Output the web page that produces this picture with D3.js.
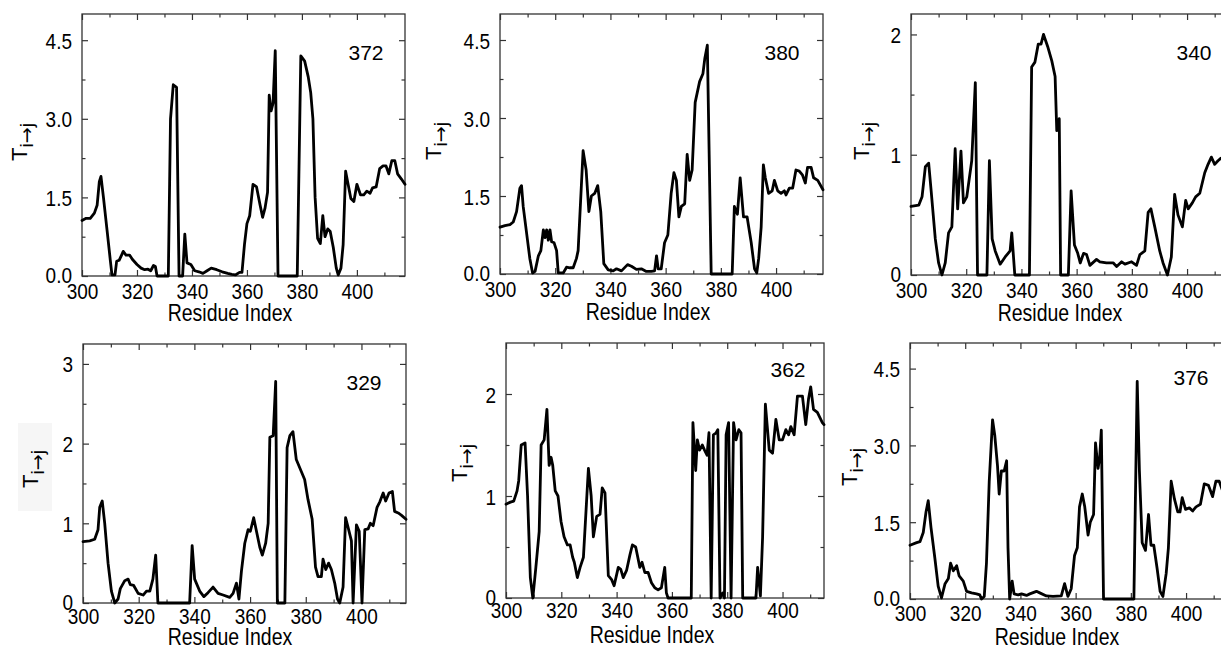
<!DOCTYPE html>
<html>
<head>
<meta charset="utf-8">
<script src="https://cdn.jsdelivr.net/npm/d3@7"></script>
<style>
  html, body { margin: 0; padding: 0; background: #fff; }
  svg { display: block; }
  text { font-family: "Liberation Sans", Arial, sans-serif; fill: #000; }
</style>
</head>
<body>
<svg id="chart" width="1221" height="649"></svg>
<script>
// Transfer entropy T(i->j) profiles along the residue index, one panel per source residue.
const panelIds = ["372", "380", "340", "329", "362", "376"];

const xTicks = [300, 320, 340, 360, 380, 400];
const yTicksWide = [0, 1.5, 3.0, 4.5];
const yTicksTwo = [0, 1, 2];
const yTicksThree = [0, 1, 2, 3];

const trace372 = [[300,1.06],[301.5,1.1],[303,1.1],[304.5,1.2],[305.5,1.35],[306.3,1.8],[306.9,1.9],[307.8,1.5],[309.1,0.88],[310.3,0.3],[310.9,0.02],[312,0.02],[312.6,0.28],[313.5,0.3],[314.4,0.4],[315,0.47],[316,0.4],[317.3,0.4],[318.3,0.32],[320,0.22],[321.5,0.15],[322.8,0.12],[324,0.13],[325,0.1],[326,0.2],[326.7,0.18],[327.3,0],[331.4,0],[332.2,3.0],[333.2,3.65],[334.4,3.6],[335.3,0],[336.6,0],[337.4,0.8],[338.2,0.25],[339.6,0.22],[341,0.1],[342.5,0.08],[344,0.05],[345.5,0.1],[347,0.15],[349,0.12],[351,0.08],[353,0.05],[354.5,0.03],[355.8,0.02],[357.3,0.07],[358.2,0.07],[359.1,0.6],[360,1.0],[361,1.15],[362.2,1.75],[363.5,1.7],[364.8,1.35],[365.7,1.12],[366.6,1.3],[367.5,1.6],[368.1,3.45],[368.8,3.15],[369.5,3.3],[370.3,4.3],[371.3,0],[378.3,0],[379.6,4.2],[381,4.1],[382.3,3.8],[383.2,3.5],[384,3.0],[384.8,1.5],[385.7,0.72],[386.7,0.62],[387.6,1.15],[388.4,0.75],[389.4,0.9],[390.3,0.85],[391.4,0.55],[392.5,0.15],[393.2,0.02],[394.2,0.15],[395,0.6],[395.9,2.0],[396.8,1.75],[397.8,1.48],[398.9,1.42],[400,1.75],[401.3,1.55],[402.5,1.55],[403.6,1.62],[404.8,1.58],[405.7,1.68],[407,1.7],[408.3,2.05],[409.5,2.1],[410.6,2.1],[411.6,1.95],[412.7,2.2],[413.8,2.2],[414.8,1.95],[416.2,1.85],[417.5,1.75]];

const trace380 = [[300,0.9],[301.8,0.93],[303.6,0.95],[304.8,1.0],[306,1.2],[307.2,1.65],[307.8,1.7],[308.4,1.3],[309.6,0.8],[310.8,0.3],[311.8,0.02],[312.7,0.05],[313.9,0.35],[314.8,0.45],[315.7,0.85],[316.3,0.7],[316.9,0.85],[317.5,0.65],[318.1,0.85],[318.7,0.62],[319.6,0.6],[320.5,0.45],[321.1,0.02],[322.9,0.02],[324.1,0.13],[325.3,0.12],[326.5,0.12],[327.7,0.3],[328.3,0.45],[330.1,2.37],[331.2,2.0],[332.2,1.2],[333.1,1.5],[334.3,1.55],[335.4,1.7],[336.5,1.2],[337.6,0.2],[339.2,0.08],[341,0.06],[342.2,0.1],[344,0.06],[346.2,0.18],[347.6,0.15],[349.4,0.09],[351.2,0.1],[353,0.05],[354.8,0.05],[356,0.06],[356.7,0.35],[357.3,0.1],[358.4,0.1],[359.6,0.6],[360.8,0.75],[362,1.55],[363,1.95],[363.9,1.8],[364.8,1.1],[365.7,1.3],[366.9,1.35],[367.8,2.3],[368.7,1.8],[369.6,2.0],[370.7,3.3],[372.3,3.7],[373.5,3.85],[374.2,4.15],[375.1,4.4],[376.5,0],[384.1,0],[384.9,1.3],[386,1.15],[387,1.85],[388.2,1.1],[389.5,1.1],[391,0.6],[392.2,0.1],[393,0.02],[393.7,0.3],[394.6,0.9],[395.4,2.1],[396.1,1.85],[397.3,1.55],[398.6,1.6],[399.4,1.8],[400.6,1.6],[401.8,1.55],[403,1.6],[403.6,1.52],[404.8,1.65],[406,1.65],[407.2,2.0],[408.4,1.98],[409.6,1.9],[410.6,1.75],[411.4,2.05],[412.7,2.05],[413.6,1.85],[415.1,1.8],[417,1.62]];

const trace340 = [[300,0.57],[302.8,0.58],[304,0.65],[305.2,0.9],[306.4,0.93],[307.3,0.7],[308.8,0.3],[310,0.1],[311.2,0.0],[312.4,0.1],[313.6,0.35],[314.8,0.4],[316,1.05],[316.9,0.55],[318.1,1.03],[319,0.6],[320.2,0.65],[322,0.95],[323.3,1.6],[324.1,0],[327.5,0],[328.4,0.95],[329.4,0.3],[330.5,0.2],[332.3,0.09],[334.1,0.15],[335.9,0.2],[336.5,0.35],[337.6,0],[342.9,0],[343.7,1.73],[344.9,1.77],[346.1,1.92],[347.1,1.92],[348,2.0],[349.5,1.9],[351,1.78],[352.2,1.65],[352.8,1.2],[353.7,1.3],[354.2,0],[357,0],[358,0.7],[359.2,0.25],[360.4,0.18],[361.3,0.1],[362.5,0.18],[363.6,0.17],[364.8,0.08],[367.2,0.13],[368.4,0.11],[370.8,0.1],[373.3,0.1],[374.5,0.07],[376.3,0.11],[377.5,0.09],[379.9,0.11],[381.7,0.08],[382.9,0.17],[384.7,0.2],[385.9,0.52],[386.9,0.55],[388.3,0.4],[390.1,0.2],[391.3,0.1],[392.9,0],[394.3,0.15],[395.5,0.67],[396.7,0.5],[398.3,0.4],[399.5,0.62],[400.4,0.55],[401.9,0.6],[403.1,0.65],[404.6,0.68],[406.4,0.85],[407.6,0.92],[408.8,0.98],[410,0.92],[411.2,0.95],[412.2,0.97],[413.5,0.98]];

const trace329 = [[300,0.77],[302.4,0.78],[304.2,0.8],[305.4,0.92],[306,1.2],[306.9,1.28],[307.8,1.0],[309,0.5],[310.2,0.15],[311.4,0.0],[312.6,0.05],[313.4,0.18],[315,0.28],[316.2,0.3],[317,0.23],[318.2,0.22],[319.8,0.12],[321.6,0.1],[322.8,0.15],[324,0.15],[325.1,0.3],[326.1,0.6],[326.9,0],[338.3,0],[339.2,0.72],[340.1,0.3],[341.9,0.15],[343.4,0.08],[344.9,0.13],[346.7,0.2],[348.5,0.12],[350.3,0.1],[352.7,0.07],[353.9,0.12],[355.1,0.25],[356,0.05],[356.9,0.4],[358.1,0.75],[359.3,0.92],[360.1,0.9],[361.3,1.07],[362.3,0.9],[363.5,0.7],[364.4,0.6],[365.6,0.75],[366.5,1.0],[367.1,2.08],[368.3,2.1],[369.2,2.78],[369.8,0],[372.5,0],[373.3,1.95],[374.3,2.1],[375.4,2.15],[376.6,1.8],[378.4,1.65],[379.6,1.55],[380.8,1.3],[382.3,1.05],[383.5,0.45],[384.4,0.33],[385.6,0.33],[386.2,0.55],[387.2,0.42],[388.2,0.5],[389.2,0.42],[390.4,0.25],[391.4,0.05],[392.2,0],[393.4,0.2],[394.3,1.07],[395.2,0.95],[396.4,0.78],[397,0],[398.2,0.98],[399.2,0.9],[400.2,0],[401.2,0.92],[402.4,0.93],[403.2,1.0],[404.2,0.97],[405.6,1.2],[406.6,1.27],[407.8,1.38],[408.7,1.28],[409.9,1.38],[411.1,1.4],[411.9,1.15],[413.2,1.13],[414.4,1.1],[416,1.05]];

const trace362 = [[300,0.92],[301.6,0.94],[302.8,0.95],[304,1.05],[304.6,1.15],[305.5,1.5],[306.9,1.52],[307.8,1.0],[308.8,0.2],[309.7,0.0],[310.8,0.3],[312,0.65],[312.7,1.5],[313.8,1.55],[314.8,1.85],[315.6,1.3],[316.3,1.38],[316.9,1.3],[317.8,1.05],[318.8,1.0],[319.9,0.75],[321,0.6],[322.2,0.52],[323.2,0.52],[324.1,0.4],[324.7,0.35],[325.8,0.2],[326.8,0.3],[328,0.4],[329.8,1.27],[330.8,1.0],[331.6,0.6],[332.8,0.8],[334,0.82],[334.8,1.08],[335.8,1.03],[337,0.22],[338.2,0.18],[339.1,0.12],[340.6,0.3],[341.5,0.28],[342.4,0.2],[343.6,0.27],[344.8,0.42],[345.7,0.52],[346.9,0.5],[348.4,0.3],[349.2,0.35],[350.2,0.25],[351.4,0.25],[352.6,0.15],[353.8,0.1],[355,0.08],[356.2,0.1],[357.4,0.3],[358,0.05],[358.6,0],[367,0],[367.6,1.72],[368.6,1.25],[369.2,1.55],[370,1.45],[371,1.5],[371.8,1.45],[372.7,1.4],[373.4,1.62],[374.2,0],[375,1.6],[376,1.62],[376.6,1.65],[377.4,0],[378.4,0.05],[379,0],[379.6,1.6],[380.5,1.72],[381.4,0],[382.3,1.72],[383.2,1.55],[384.2,1.65],[385,1.62],[385.6,0],[390.4,0],[391,0.3],[392,0.02],[392.8,0.6],[393.8,1.9],[395.2,1.45],[396.4,1.42],[397.6,1.75],[398.8,1.55],[400,1.55],[401.2,1.65],[402.2,1.6],[403,1.68],[404.2,1.6],[405.4,1.98],[407.2,1.98],[408.4,1.7],[409.4,1.95],[410.2,2.07],[411.2,1.85],[412.6,1.82],[414.4,1.72],[415,1.7]];

const trace376 = [[300,1.05],[302.4,1.1],[303.6,1.12],[304.8,1.3],[305.8,1.7],[306.6,1.92],[307.6,1.4],[309,0.8],[310.2,0.25],[311.4,0.02],[312.7,0.3],[313.9,0.4],[314.7,0.7],[315.7,0.55],[316.9,0.65],[317.8,0.45],[319.3,0.35],[320.5,0.15],[322.3,0.12],[324.1,0.1],[325.3,0.08],[325.9,0],[326.9,0.05],[327.7,0.7],[328.7,2.3],[329.9,3.5],[330.7,3.2],[331.7,2.6],[332.3,2.05],[333.1,2.5],[334.1,2.5],[335,2.7],[335.5,1.0],[336.1,0],[337,0.35],[337.7,0.1],[339.2,0.08],[340.4,0.1],[342.2,0.07],[343.4,0.1],[345.8,0.15],[347,0.12],[349.4,0.06],[351.8,0.05],[354.8,0.06],[356,0.3],[357.2,0.05],[358.4,0.2],[359.6,0.85],[360.6,1.0],[361.4,1.8],[362.4,2.05],[363.3,1.8],[364.5,1.25],[365.3,1.5],[366.5,1.65],[367.2,3.05],[368.1,2.55],[368.7,2.75],[369.3,3.3],[370.1,0],[381.1,0],[382.3,4.25],[383.1,2.5],[384.1,1.1],[385.3,0.95],[386.4,1.65],[387.3,1.05],[388.3,1.05],[389.5,0.6],[390.6,0.15],[391.6,0.05],[392.8,0.5],[393.6,1.0],[394.6,2.3],[395.8,1.95],[397,1.7],[397.8,1.7],[398.6,1.98],[399.8,1.75],[401.2,1.78],[402.4,1.72],[403.6,1.8],[405.2,1.85],[406.6,2.25],[408.1,2.22],[409.6,2.0],[410.8,2.3],[412,2.3],[413.3,2.1],[414.5,2.05]];

const traces = [trace372, trace380, trace340, trace329, trace362, trace376];
const yTickSets = [yTicksWide, yTicksWide, yTicksTwo, yTicksThree, yTicksTwo, yTicksWide];

// Frame placement of each panel on the page (pixels), axis extents and title anchors.
const layout = [
  { left: 82,  right: 405,  top: 14,  bottom: 276, xMax: 417.5, yMax: 5.0,  yMinor: 0.75, digits: 1, tickDy: 23, idPos: [366, 60],  yLab: [27, 142],  xLab: [230, 321] },
  { left: 500, right: 823,  top: 14,  bottom: 274, xMax: 417,   yMax: 5.0,  yMinor: 0.75, digits: 1, tickDy: 23, idPos: [782, 60],  yLab: [441, 141], xLab: [648, 320] },
  { left: 911, right: 1234, top: 14,  bottom: 275, xMax: 417,   yMax: 2.17, yMinor: 0.5,  digits: 0, tickDy: 23, idPos: [1194, 60], yLab: [869, 141], xLab: [1060, 321] },
  { left: 83,  right: 406,  top: 344, bottom: 603, xMax: 416,   yMax: 3.25, yMinor: 0.5,  digits: 0, tickDy: 21, idPos: [364, 390], yLab: [38, 469],  xLab: [230, 645] },
  { left: 506, right: 824,  top: 343, bottom: 598, xMax: 415,   yMax: 2.5,  yMinor: 0.5,  digits: 0, tickDy: 20, idPos: [788, 377], yLab: [467, 463], xLab: [652, 643] },
  { left: 910, right: 1233, top: 343, bottom: 599, xMax: 417,   yMax: 5.0,  yMinor: 0.75, digits: 1, tickDy: 22, idPos: [1191, 385], yLab: [857, 467], xLab: [1057, 645] }
];

const svg = d3.select("#chart");
const tickColor = "#333";
const fontSize = 19;
const stretch = 1.18;   // axis lettering is drawn taller than wide

// faint backing patch behind the lower-left axis title
svg.append("rect").attr("x", 18).attr("y", 423).attr("width", 34).attr("height", 88)
  .attr("fill", "#f6f6f6");

layout.forEach((L, i) => {
  const g = svg.append("g");
  const x = d3.scaleLinear().domain([300, L.xMax]).range([L.left, L.right]);
  const y = d3.scaleLinear().domain([0, L.yMax]).range([L.bottom, L.top]);
  const w = L.right - L.left, h = L.bottom - L.top;

  // minor ticks (unlabelled)
  const xMinor = d3.range(310, L.xMax, 20);
  const yMinor = d3.range(L.yMinor, L.yMax, L.yMinor * 2).filter(v => v < L.yMax - 0.01);
  const fmt = L.digits ? d3.format(".1f") : d3.format("d");

  const put = (axis, tr) => {
    const a = g.append("g").attr("transform", tr).call(axis);
    a.select(".domain").remove();
    a.selectAll(".tick line").attr("stroke", tickColor).attr("stroke-width", 1.2);
    return a;
  };

  // ticks point into the frame on all four sides
  const bottomAx = put(d3.axisBottom(x).tickValues(xTicks).tickSize(-6).tickFormat(d3.format("d")), `translate(0,${L.bottom})`);
  put(d3.axisBottom(x).tickValues(xMinor).tickSize(-3.5).tickFormat(""), `translate(0,${L.bottom})`);
  put(d3.axisTop(x).tickValues(xTicks).tickSize(-6).tickFormat(""), `translate(0,${L.top})`);
  put(d3.axisTop(x).tickValues(xMinor).tickSize(-3.5).tickFormat(""), `translate(0,${L.top})`);
  const leftAx = put(d3.axisLeft(y).tickValues(yTickSets[i]).tickSize(-6).tickFormat(fmt), `translate(${L.left},0)`);
  put(d3.axisLeft(y).tickValues(yMinor).tickSize(-3.5).tickFormat(""), `translate(${L.left},0)`);
  put(d3.axisRight(y).tickValues(yTickSets[i]).tickSize(-6).tickFormat(""), `translate(${L.right},0)`);
  put(d3.axisRight(y).tickValues(yMinor).tickSize(-3.5).tickFormat(""), `translate(${L.right},0)`);

  bottomAx.selectAll(".tick text")
    .attr("y", null).attr("dy", null)
    .attr("transform", `translate(0,${L.tickDy}) scale(1,${stretch})`)
    .attr("font-size", fontSize).attr("fill", "#000")
    .attr("font-family", '"Liberation Sans", Arial, sans-serif');
  leftAx.selectAll(".tick text")
    .attr("x", null).attr("dy", null)
    .attr("transform", d => `translate(-10,${d === 0 ? 6 : 8}) scale(1,${stretch})`)
    .attr("font-size", fontSize).attr("fill", "#000")
    .attr("font-family", '"Liberation Sans", Arial, sans-serif');

  // frame
  g.append("rect").attr("x", L.left).attr("y", L.top).attr("width", w).attr("height", h)
    .attr("fill", "none").attr("stroke", tickColor).attr("stroke-width", 1.3);

  // data trace
  const line = d3.line().x(d => x(d[0])).y(d => y(d[1]));
  g.append("path").datum(traces[i]).attr("d", line)
    .attr("fill", "none").attr("stroke", "#000").attr("stroke-width", 2.8)
    .attr("stroke-linejoin", "round").attr("stroke-linecap", "round");

  // residue label in the corner
  g.append("text").attr("x", L.idPos[0]).attr("y", L.idPos[1])
    .attr("text-anchor", "middle").attr("font-size", 21).text(panelIds[i]);

  // axis titles
  g.append("text")
    .attr("transform", `translate(${L.xLab[0]},${L.xLab[1]}) scale(1,${stretch})`)
    .attr("text-anchor", "middle").attr("font-size", fontSize + 0.5).text("Residue Index");

  const yt = g.append("text")
    .attr("transform", `translate(${L.yLab[0]},${L.yLab[1]}) rotate(-90)`)
    .attr("text-anchor", "middle").attr("font-size", 22);
  yt.append("tspan").text("T");
  yt.append("tspan").attr("font-size", 19).attr("dy", 6).text("i");
  yt.append("tspan").attr("font-size", 19).attr("font-family", '"DejaVu Sans", sans-serif').text("\u2192");
  yt.append("tspan").attr("font-size", 19).text("j");
});
</script>
</body>
</html>
